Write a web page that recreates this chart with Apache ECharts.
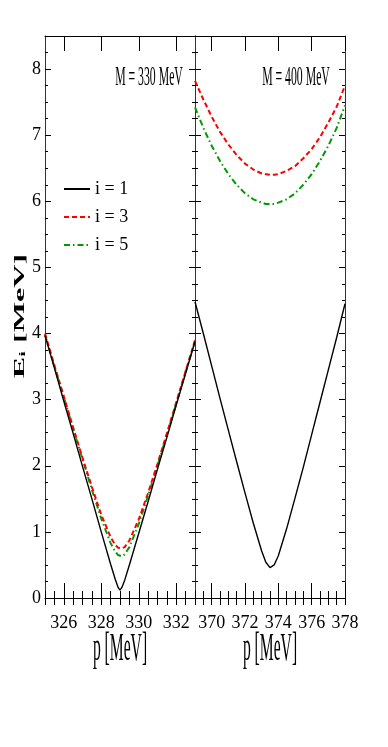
<!DOCTYPE html>
<html lang="en">
<head>
<meta charset="UTF-8">
<script src="https://cdn.jsdelivr.net/npm/echarts@6.0.0/dist/echarts.min.js"></script>
<style>html,body{margin:0;padding:0;background:#fff}</style>
</head>
<body>
<div id="chart" style="width:388px;height:747px"></div>
<script>
// left panel, M = 330 MeV
var pLeft  = [325, 325.5, 326, 326.5, 327, 327.5, 328, 328.5, 328.75, 328.9, 329, 329.1, 329.25, 329.5, 330, 330.5, 331, 331.5, 332, 332.5, 333];
var e1Left = [3.97, 3.48, 2.98, 2.49, 1.99, 1.50, 1.00, 0.51, 0.28, 0.16, 0.12, 0.16, 0.27, 0.50, 0.98, 1.46, 1.95, 2.43, 2.92, 3.40, 3.88];
var e3Left = [4.00, 3.52, 3.05, 2.58, 2.12, 1.68, 1.26, 0.92, 0.80, 0.76, 0.75, 0.75, 0.77, 0.87, 1.19, 1.59, 2.03, 2.49, 2.96, 3.43, 3.90];
var e5Left = [3.98, 3.50, 3.04, 2.56, 2.10, 1.64, 1.20, 0.83, 0.70, 0.65, 0.63, 0.63, 0.66, 0.77, 1.12, 1.55, 2.00, 2.47, 2.94, 3.42, 3.88];

// right panel, M = 400 MeV
var pRight  = [369, 369.5, 370, 370.5, 371, 371.5, 372, 372.5, 373, 373.25, 373.5, 373.75, 374, 374.5, 375, 375.5, 376, 376.5, 377, 377.5, 378];
var e1Right = [4.48, 4.00, 3.51, 3.02, 2.54, 2.06, 1.59, 1.13, 0.71, 0.54, 0.46, 0.50, 0.64, 1.05, 1.51, 1.98, 2.47, 2.96, 3.45, 3.94, 4.45];
var e3Right = [7.82, 7.54, 7.28, 7.05, 6.86, 6.70, 6.57, 6.48, 6.42, 6.41, 6.40, 6.40, 6.41, 6.46, 6.53, 6.65, 6.79, 6.97, 7.19, 7.43, 7.75];
var e5Right = [7.42, 7.11, 6.84, 6.61, 6.41, 6.25, 6.12, 6.03, 5.98, 5.96, 5.96, 5.96, 5.98, 6.03, 6.12, 6.25, 6.41, 6.61, 6.84, 7.11, 7.45];

var seriesNames = ['i = 1', 'i = 3', 'i = 5'];

// ticks
var xTicksLeft  = [326, 328, 330, 332];
var xTicksRight = [370, 372, 374, 376, 378];
var yTicks = [0, 1, 2, 3, 4, 5, 6, 7, 8];

function steps(a, b, d) {
    var out = [];
    for (var v = a; v <= b + 1e-9; v += d) out.push(+v.toFixed(3));
    return out;
}
var xMinorLeft  = steps(325, 333, 0.5);
var xMinorRight = steps(369, 378, 0.5);
var yMinor = steps(0, 8.5, 0.25);

var serif = '"Liberation Serif", "Times New Roman", serif';
var black = '#000';

function pairs(xs, ys) {
    return xs.map(function (x, i) { return [x, ys[i]]; });
}

function xAxes(g, min, max, major, minor) {
    var base = {gridIndex: g, type: 'value', min: min, max: max, splitLine: {show: false}};
    return [
        Object.assign({}, base, {position: 'bottom',
            axisLine: {onZero: false, lineStyle: {color: black, width: 1}},
            axisTick: {inside: true, length: 15, customValues: major, lineStyle: {color: black}},
            axisLabel: {customValues: major, margin: 16, fontSize: 18, fontFamily: serif, color: black}}),
        Object.assign({}, base, {position: 'bottom', axisLine: {show: false},
            axisTick: {inside: true, length: 7, customValues: minor, lineStyle: {color: black}},
            axisLabel: {show: false}}),
        Object.assign({}, base, {position: 'top',
            axisLine: {onZero: false, lineStyle: {color: black, width: 1}},
            axisTick: {inside: true, length: 15, customValues: major, lineStyle: {color: black}},
            axisLabel: {show: false}}),
        Object.assign({}, base, {position: 'top', axisLine: {show: false},
            axisTick: {inside: true, length: 7, customValues: minor, lineStyle: {color: black}},
            axisLabel: {show: false}})
    ];
}

function yAxes(g, labels) {
    var base = {gridIndex: g, type: 'value', min: 0, max: 8.5, splitLine: {show: false}};
    return [
        Object.assign({}, base, {position: 'left',
            axisLine: {onZero: false, lineStyle: {color: '#333', width: 1}},
            axisTick: {inside: true, length: 6, customValues: yTicks, lineStyle: {color: black}},
            axisLabel: labels ? {customValues: yTicks, margin: 4, fontSize: 18, fontFamily: serif, color: black} : {show: false}}),
        Object.assign({}, base, {position: 'left', axisLine: {show: false},
            axisTick: {inside: true, length: 3, customValues: yMinor, lineStyle: {color: black}},
            axisLabel: {show: false}}),
        Object.assign({}, base, {position: 'right',
            axisLine: {onZero: false, lineStyle: {color: '#333', width: 1}},
            axisTick: {inside: true, length: 6, customValues: yTicks, lineStyle: {color: black}},
            axisLabel: {show: false}}),
        Object.assign({}, base, {position: 'right', axisLine: {show: false},
            axisTick: {inside: true, length: 3, customValues: yMinor, lineStyle: {color: black}},
            axisLabel: {show: false}})
    ];
}

var styles = [
    {color: '#000000', width: 1.4, type: 'solid'},
    {color: '#ff0000', width: 2, type: [5, 3]},
    {color: '#009a00', width: 2, type: [6, 3, 1.5, 3]}
];

function line(name, k, g, xs, ys) {
    return {
        name: name, type: 'line', xAxisIndex: g * 4, yAxisIndex: g * 4,
        data: pairs(xs, ys), symbol: 'none', showSymbol: false,
        lineStyle: styles[k], itemStyle: {color: styles[k].color},
        z: 10 - k
    };
}

var chart = echarts.init(document.getElementById('chart'));
var option = {
    animation: false,
    backgroundColor: '#fff',
    grid: [
        {left: 45, top: 36, width: 150, height: 562},
        {left: 195, top: 36, width: 150, height: 562}
    ],
    xAxis: xAxes(0, 325, 333, xTicksLeft, xMinorLeft).concat(xAxes(1, 369, 378, xTicksRight, xMinorRight)),
    yAxis: yAxes(0, true).concat(yAxes(1, false)),
    legend: {
        data: seriesNames, orient: 'vertical', left: 58, top: 175,
        itemWidth: 26, itemHeight: 14, itemGap: 10, selectedMode: false,
        itemStyle: {color: 'rgba(0,0,0,0)', borderWidth: 0},
        textStyle: {fontFamily: serif, fontSize: 18, color: black, lineHeight: 16}
    },
    graphic: [
        {type: 'text', x: 149, y: 78, scaleX: 0.42, style: {text: 'M = 330 MeV', fontSize: 28, fontFamily: serif, fill: black, align: 'center', verticalAlign: 'middle'}},
        {type: 'text', x: 296, y: 78, scaleX: 0.42, style: {text: 'M = 400 MeV', fontSize: 28, fontFamily: serif, fill: black, align: 'center', verticalAlign: 'middle'}},
        {type: 'text', x: 120, y: 650, scaleX: 0.4, style: {text: 'p [MeV]', fontSize: 39, fontFamily: serif, fill: black, align: 'center', verticalAlign: 'middle'}},
        {type: 'text', x: 270, y: 650, scaleX: 0.4, style: {text: 'p [MeV]', fontSize: 39, fontFamily: serif, fill: black, align: 'center', verticalAlign: 'middle'}},
        {type: 'text', x: 20, y: 316, rotation: Math.PI / 2, scaleX: 2.3, style: {
            text: 'E\u1d62 [MeV]', align: 'center', verticalAlign: 'middle', fill: black,
            fontSize: 14, fontWeight: 'bold', fontFamily: serif
        }}
    ],
    series: [
        line(seriesNames[0], 0, 0, pLeft, e1Left),
        line(seriesNames[1], 1, 0, pLeft, e3Left),
        line(seriesNames[2], 2, 0, pLeft, e5Left),
        line(seriesNames[0], 0, 1, pRight, e1Right),
        line(seriesNames[1], 1, 1, pRight, e3Right),
        line(seriesNames[2], 2, 1, pRight, e5Right)
    ]
};
chart.setOption(option);
</script>
</body>
</html>
